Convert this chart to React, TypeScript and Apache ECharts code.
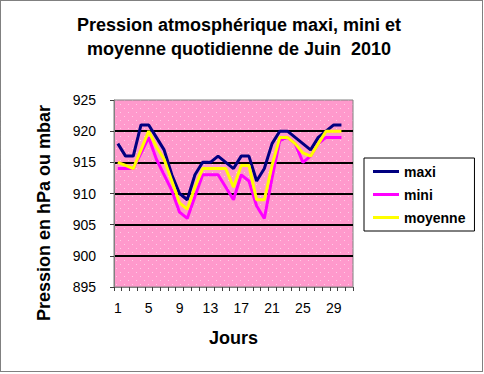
import React, { useEffect, useRef } from "react";
import * as echarts from "echarts";

const days = ["1","2","3","4","5","6","7","8","9","10","11","12","13","14","15","16","17","18","19","20","21","22","23","24","25","26","27","28","29","30","31"];
const maxi = [918, 916, 916, 921, 921, 919, 917, 913, 910, 909, 913, 915, 915, 916, 915, 914, 916, 916, 912, 914, 918, 920, 920, 919, 918, 917, 919, 920, 921, 921, null];
const mini = [914, 914, 914, 916.5, 919, 915.5, 913, 910.5, 907, 906, 909.5, 913, 913, 913, 911, 909, 913, 912, 908, 906, 912.5, 918.5, 919, 918, 915, 916, 918, 919, 919, 919, null];
const moyenne = [915, 914.5, 914, 917, 920, 917.5, 915.5, 912, 908.5, 907.5, 911, 914, 914, 914, 914, 911, 914.5, 914.5, 909, 909, 914.5, 919, 919, 918, 916.5, 916, 918, 920, 920, 920, null];

const titleText = "Pression atmosphérique maxi, mini et\nmoyenne quotidienne de Juin  2010";
const yTitle = "Pression en hPa ou mbar";
const xTitle = "Jours";
const FONT = "'Liberation Sans', Arial, sans-serif";

export default function App() {
  const ref = useRef<HTMLDivElement>(null);
  useEffect(() => {
    const chart = echarts.init(ref.current!, null, { renderer: "svg" });
    const c = document.createElement("canvas");
    c.width = 8;
    c.height = 8;
    const ctx = c.getContext("2d")!;
    ctx.fillStyle = "#FF99CC";
    ctx.fillRect(0, 0, 8, 8);
    ctx.fillStyle = "#FFCCE6";
    ctx.fillRect(0, 0, 1, 1);
    ctx.fillRect(4, 4, 1, 1);
    const pattern: any = { image: c, repeat: "repeat" };

    chart.setOption({
      animation: false,
      backgroundColor: "#ffffff",
      title: {
        text: titleText,
        left: 234,
        top: 8,
        textAlign: "center",
        textStyle: { fontFamily: FONT, fontSize: 18, fontWeight: "bold", color: "#000", lineHeight: 24 },
      },
      legend: {
        data: ["maxi", "mini", "moyenne"],
        orient: "vertical",
        left: 364,
        top: 158,
        icon: "rect",
        itemWidth: 26,
        itemHeight: 3,
        itemGap: 8,
        padding: [6, 9, 6, 9],
        borderColor: "#000",
        borderWidth: 1,
        backgroundColor: "#fff",
        textStyle: { fontFamily: FONT, fontSize: 14, fontWeight: "bold", color: "#000", lineHeight: 15 },
      },
      grid: {
        left: 114,
        right: 131,
        top: 100,
        bottom: 87,
        show: true,
        backgroundColor: pattern,
        borderColor: "#808080",
        borderWidth: 1,
      },
      xAxis: {
        type: "category",
        data: days,
        boundaryGap: true,
        name: xTitle,
        nameLocation: "middle",
        nameGap: 42,
        nameTextStyle: { fontFamily: FONT, fontSize: 18, fontWeight: "bold", color: "#000" },
        axisLine: { lineStyle: { color: "#808080", width: 1 } },
        axisTick: { show: true, interval: 0, alignWithLabel: false, length: 4, lineStyle: { color: "#404040" } },
        axisLabel: { interval: 3, margin: 14, fontFamily: FONT, fontSize: 14, color: "#000" },
        splitLine: { show: false },
      },
      yAxis: {
        type: "value",
        min: 895,
        max: 925,
        interval: 5,
        axisLine: { show: true, lineStyle: { color: "#808080", width: 1 } },
        axisTick: { show: true, length: 4, lineStyle: { color: "#404040" } },
        axisLabel: { margin: 18, fontFamily: FONT, fontSize: 14, color: "#000" },
        splitLine: {
          show: true,
          lineStyle: { color: ["transparent", "#000", "#000", "#000", "#000", "#000", "transparent"], width: 2 },
        },
      },
      graphic: [
        {
          type: "rect",
          shape: { x: 0.5, y: 0.5, width: 482, height: 371 },
          style: { fill: "none", stroke: "#000", lineWidth: 1, lineDash: [1, 1] },
          silent: true,
        },
        {
          type: "text",
          x: 44,
          y: 213,
          rotation: Math.PI / 2,
          style: {
            text: yTitle,
            fontFamily: FONT,
            fontSize: 18,
            fontWeight: "bold",
            fill: "#000",
            align: "center",
            verticalAlign: "middle",
          },
        },
      ],
      series: [
        { name: "maxi", type: "line", data: maxi, symbol: "none", lineStyle: { color: "#000080", width: 3 }, itemStyle: { color: "#000080" } },
        { name: "mini", type: "line", data: mini, symbol: "none", lineStyle: { color: "#FF00FF", width: 3 }, itemStyle: { color: "#FF00FF" } },
        { name: "moyenne", type: "line", data: moyenne, symbol: "none", lineStyle: { color: "#FFFF00", width: 3 }, itemStyle: { color: "#FFFF00" } },
      ],
    });
    return () => chart.dispose();
  }, []);
  return <div ref={ref} style={{ position: "fixed", left: 0, top: 0, width: 484, height: 374 }} />;
}
